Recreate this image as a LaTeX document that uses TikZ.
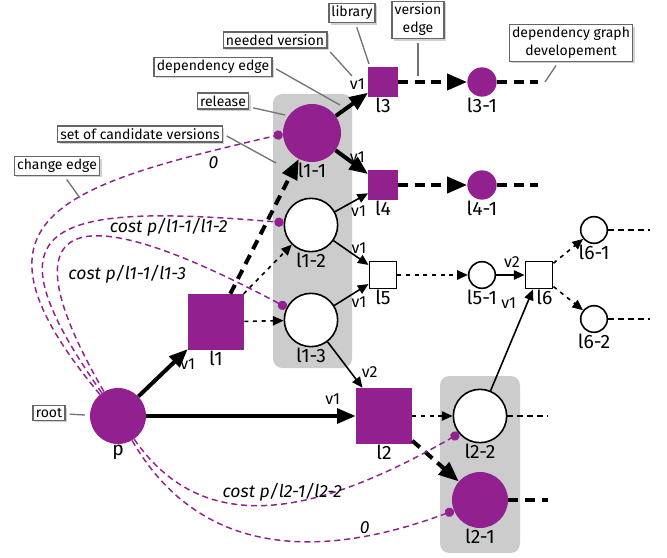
\documentclass[tikz,border=0pt]{standalone}
\usepackage{fontspec}
\setmainfont{Fira Sans}
\usepackage{tikz}
\usetikzlibrary{arrows.meta,positioning,shadows}
\definecolor{relpurple}{RGB}{146,32,142}
\definecolor{candgray}{RGB}{204,204,204}

\tikzset{
  relfull/.style={circle, fill=relpurple, inner sep=0pt},
  relopen/.style={circle, draw, line width=1.2pt, fill=white, inner sep=0pt},
  libfull/.style={rectangle, fill=relpurple, inner sep=0pt},
  libopen/.style={rectangle, draw, line width=1.2pt, fill=white, inner sep=0pt},
  nlbl/.style={font=\fontsize{14.5}{16}\selectfont, inner sep=0.5pt},
  vlbl/.style={font=\fontsize{12}{13}\selectfont, inner sep=1pt},
  clbl/.style={text=black, font=\fontsize{13.2}{15}\selectfont\itshape, inner sep=1pt},
  callout/.style={draw=black!60, line width=1.2pt, fill=white, inner sep=2pt,
    font=\fontsize{10.5}{13.5}\selectfont,
    drop shadow={shadow xshift=1.5pt, shadow yshift=-1.5pt, fill=black!35}},
  callline/.style={draw=black!55, line width=1pt, shorten <=3pt},
  depthick/.style={line width=3pt, -{Triangle[length=14pt,width=11pt]}},
  depthin/.style={line width=1.2pt, -{Triangle[length=8pt,width=7pt]}},
  verthick/.style={line width=3pt, dash pattern=on 7.5pt off 5pt, -{Triangle[length=15pt,width=12pt]}},
  verdot/.style={line width=1.2pt, dash pattern=on 3pt off 3.5pt, -{Triangle[length=8pt,width=7pt]}},
  outthick/.style={line width=3pt, dash pattern=on 7.5pt off 5pt},
  outthin/.style={line width=1.2pt, dash pattern=on 4.5pt off 3pt},
  chg/.style={relpurple, line width=1.1pt, dash pattern=on 4.5pt off 3pt, -{Circle[length=7pt]}},
  candset/.style={fill=candgray, rounded corners=7pt}
}

\begin{document}
\begin{tikzpicture}[x=0.75pt, y=-0.75pt]
  \useasboundingbox (0,0) rectangle (667,557);
  % sets of candidate versions
  \fill[candset] (273,94) rectangle (352,368);
  \fill[candset] (440,376) rectangle (520,553);

  % root, libraries and releases
  \node[relfull, minimum size=42pt, label={[nlbl]below:p}] (p) at (118,416) {};
  \node[libfull, minimum size=42pt, label={[nlbl]below:l1}] (l1) at (216,322) {};
  \node[libfull, minimum size=42pt, label={[nlbl]below:l2}] (l2) at (384,416) {};
  \node[relfull, minimum size=43.5pt, label={[nlbl]below:l1-1}] (l1-1) at (312,133) {};
  \node[relopen, minimum size=40pt, label={[nlbl]below:l1-2}] (l1-2) at (311,225) {};
  \node[relopen, minimum size=40pt, label={[nlbl]below:l1-3}] (l1-3) at (311,320) {};
  \node[libfull, minimum size=22pt, label={[nlbl]below:l3}] (l3) at (383,82) {};
  \node[relfull, minimum size=22pt, label={[nlbl]below:l3-1}] (l3-1) at (482,82) {};
  \node[libfull, minimum size=22pt, label={[nlbl]below:l4}] (l4) at (383,185) {};
  \node[relfull, minimum size=22pt, label={[nlbl]below:l4-1}] (l4-1) at (482,185) {};
  \node[libopen, minimum size=20.5pt, label={[nlbl]below:l5}] (l5) at (383,275) {};
  \node[relopen, minimum size=20pt, label={[nlbl]below:l5-1}] (l5-1) at (482,275) {};
  \node[libopen, minimum size=20.5pt, label={[nlbl, xshift=4pt]below:l6}] (l6) at (539,275) {};
  \node[relopen, minimum size=20pt, label={[nlbl]below:l6-1}] (l6-1) at (594,230) {};
  \node[relopen, minimum size=20pt, label={[nlbl]below:l6-2}] (l6-2) at (594,319) {};
  \node[relopen, minimum size=40pt, label={[nlbl]below:l2-2}] (l2-2) at (480,416) {};
  \node[relfull, minimum size=42pt, label={[nlbl]below:l2-1}] (l2-1) at (480,500) {};

  % dependency edges
  \draw[depthick] (p) -- (l1) node[vlbl, at end, below=5pt] {v1};
  \draw[depthick] (p) -- (l2) node[vlbl, pos=0.89, above=6pt] {v1};
  \draw[depthick] (l1-1) -- (l3) node[vlbl, at end, above left] {v1};
  \draw[depthick] (l1-1) -- (l4) node[vlbl, at end, above left=6pt and 0pt] {v1};
  \draw[depthin] (l1-2) -- (l4) node[vlbl, at end, below left=8pt and 0pt] {v1};
  \draw[depthin] (l1-2) -- (l5) node[vlbl, at end, above left=7pt and 0pt] {v1};
  \draw[depthin] (l1-3) -- (l5) node[vlbl, at end, below left=8pt and 0pt] {v1};
  \draw[depthin] (l1-3) -- (l2) node[vlbl, at end, above right=6pt and -2pt] {v2};
  \draw[depthin] (l2-2) -- (l6) node[vlbl, at end, below left=5pt and 11pt] {v1};
  \draw[depthin] (l5-1) -- (l6) node[vlbl, at end, above left=4pt and 2pt] {v2};

  % version edges
  \draw[verthick] (l1) -- (l1-1);
  \draw[verthick] (l2) -- (l2-1);
  \draw[verthick] (l3) -- (l3-1);
  \draw[verthick] (l4) -- (l4-1);
  \draw[verdot] (l1) -- (l1-2);
  \draw[verdot] (l1) -- (l1-3);
  \draw[verdot] (l2) -- (l2-2);
  \draw[verdot] (l5) -- (l5-1);
  \draw[verdot] (l6) -- (l6-1);
  \draw[verdot] (l6) -- (l6-2);

  % further development
  \coordinate (l3-1-out) at (538,82);
  \coordinate (l4-1-out) at (538,185);
  \coordinate (l2-1-out) at (548,500);
  \coordinate (l2-2-out) at (548,416);
  \coordinate (l6-1-out) at (650,230);
  \coordinate (l6-2-out) at (650,319);
  \draw[outthick] (l3-1) -- (l3-1-out);
  \draw[outthick] (l4-1) -- (l4-1-out);
  \draw[outthick] (l2-1) -- (l2-1-out);
  \draw[outthin] (l2-2) -- (l2-2-out);
  \draw[outthin] (l6-1) -- (l6-1-out);
  \draw[outthin] (l6-2) -- (l6-2-out);

  % change edges
  \draw[chg] (p.130) .. controls (-47,218) and (59,186) .. (l1-1.182)
    node[clbl, pos=0.89, below=3pt] {0};
  \draw[chg] (p.125) .. controls (-13,229) and (35,201) .. (l1-2.175)
    node[clbl, pos=0.82, below] {cost p/l1-1/l1-2};
  \draw[chg] (p.120) .. controls (4,219) and (66,190) .. (l1-3.153)
    node[clbl, pos=0.69, below=17pt] {cost p/l1-1/l1-3};
  \draw[chg] (p.-55) .. controls (208,546) and (329,508) .. (l2-2.220)
    node[clbl, pos=0.52, above] {cost p/l2-1/l2-2};
  \draw[chg] (p.-60) .. controls (197,553) and (313,563) .. (l2-1.202)
    node[clbl, pos=0.78, above] {0};

  % callouts
  \node[callout] (lib) at (352,13) {library};
  \node[callout, align=center] (veredge) at (418,20) {version\\edge};
  \node[callout, align=center] (devel) at (571,43) {dependency graph\\developement};
  \node[callout] (needed) at (275,40) {needed version};
  \node[callout] (depedge) at (213,67) {dependency edge};
  \node[callout] (release) at (223,101) {release};
  \node[callout] (cands) at (140,134) {set of candidate versions};
  \node[callout] (change) at (57,166) {change edge};
  \node[callout] (root) at (49,413) {root};
  \coordinate (lib-end) at (369,64);
  \coordinate (veredge-end) at (418,76);
  \coordinate (devel-end) at (545,82);
  \coordinate (needed-end) at (352,76);
  \coordinate (depedge-end) at (340,105);
  \coordinate (release-end) at (285,115);
  \coordinate (cands-end) at (276,163);
  \coordinate (change-end) at (80,198);
  \coordinate (root-end) at (85,415);
  \draw[callline] (lib) -- (lib-end);
  \draw[callline] (veredge) -- (veredge-end);
  \draw[callline] (devel) -- (devel-end);
  \draw[callline] (needed.south east) -- (needed-end);
  \draw[callline] (depedge.east) -- (depedge-end);
  \draw[callline] (release) -- (release-end);
  \draw[callline] (cands.east) -- (cands-end);
  \draw[callline] (change) -- (change-end);
  \draw[callline] (root) -- (root-end);
\end{tikzpicture}
\end{document}
